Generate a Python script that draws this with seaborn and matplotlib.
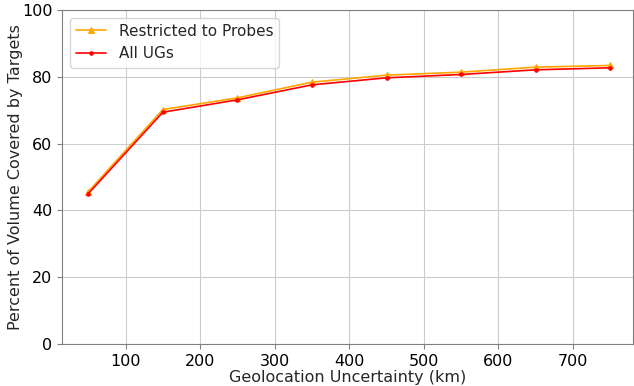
import matplotlib
matplotlib.use("Agg")
import matplotlib.pyplot as plt
import seaborn as sns
import pandas as pd

uncertainty = [50, 150, 250, 350, 450, 550, 650, 750]
restricted = [45.6, 70.2, 73.7, 78.4, 80.5, 81.4, 82.9, 83.4]
all_ugs = [45.0, 69.4, 73.1, 77.6, 79.7, 80.7, 82.1, 82.7]

sns.set_style("ticks")
plt.rcParams['font.family'] = ['DejaVu Sans']

fig, ax = plt.subplots(figsize=(6.34, 3.86), dpi=100)
df = pd.DataFrame({"x": uncertainty, "r": restricted, "a": all_ugs})
sns.lineplot(data=df, x="x", y="r", ax=ax, color="orange", marker="^",
             markersize=5, markeredgecolor="orange", linewidth=1.2,
             label="Restricted to Probes")
sns.lineplot(data=df, x="x", y="a", ax=ax, color="red", marker=".",
             markersize=5, markeredgecolor="red", linewidth=1.2,
             label="All UGs")
ax.set_ylim(0, 100)
ax.set_xlim(15, 780)
ax.grid(True, color="#cccccc", linewidth=0.8)
for s in ax.spines.values():
    s.set_color("#808080")
ax.tick_params(colors="#808080", labelcolor="black", labelsize=11.5)
ax.set_xlabel("Geolocation Uncertainty (km)", fontsize=11.5, labelpad=1)
ax.set_ylabel("Percent of Volume Covered by Targets", fontsize=11.5, labelpad=-1)
ax.legend(loc="upper left", fontsize=11, frameon=True)
fig.subplots_adjust(left=0.098, right=0.998, top=0.974, bottom=0.109)
fig.savefig("out.png", dpi=100)
